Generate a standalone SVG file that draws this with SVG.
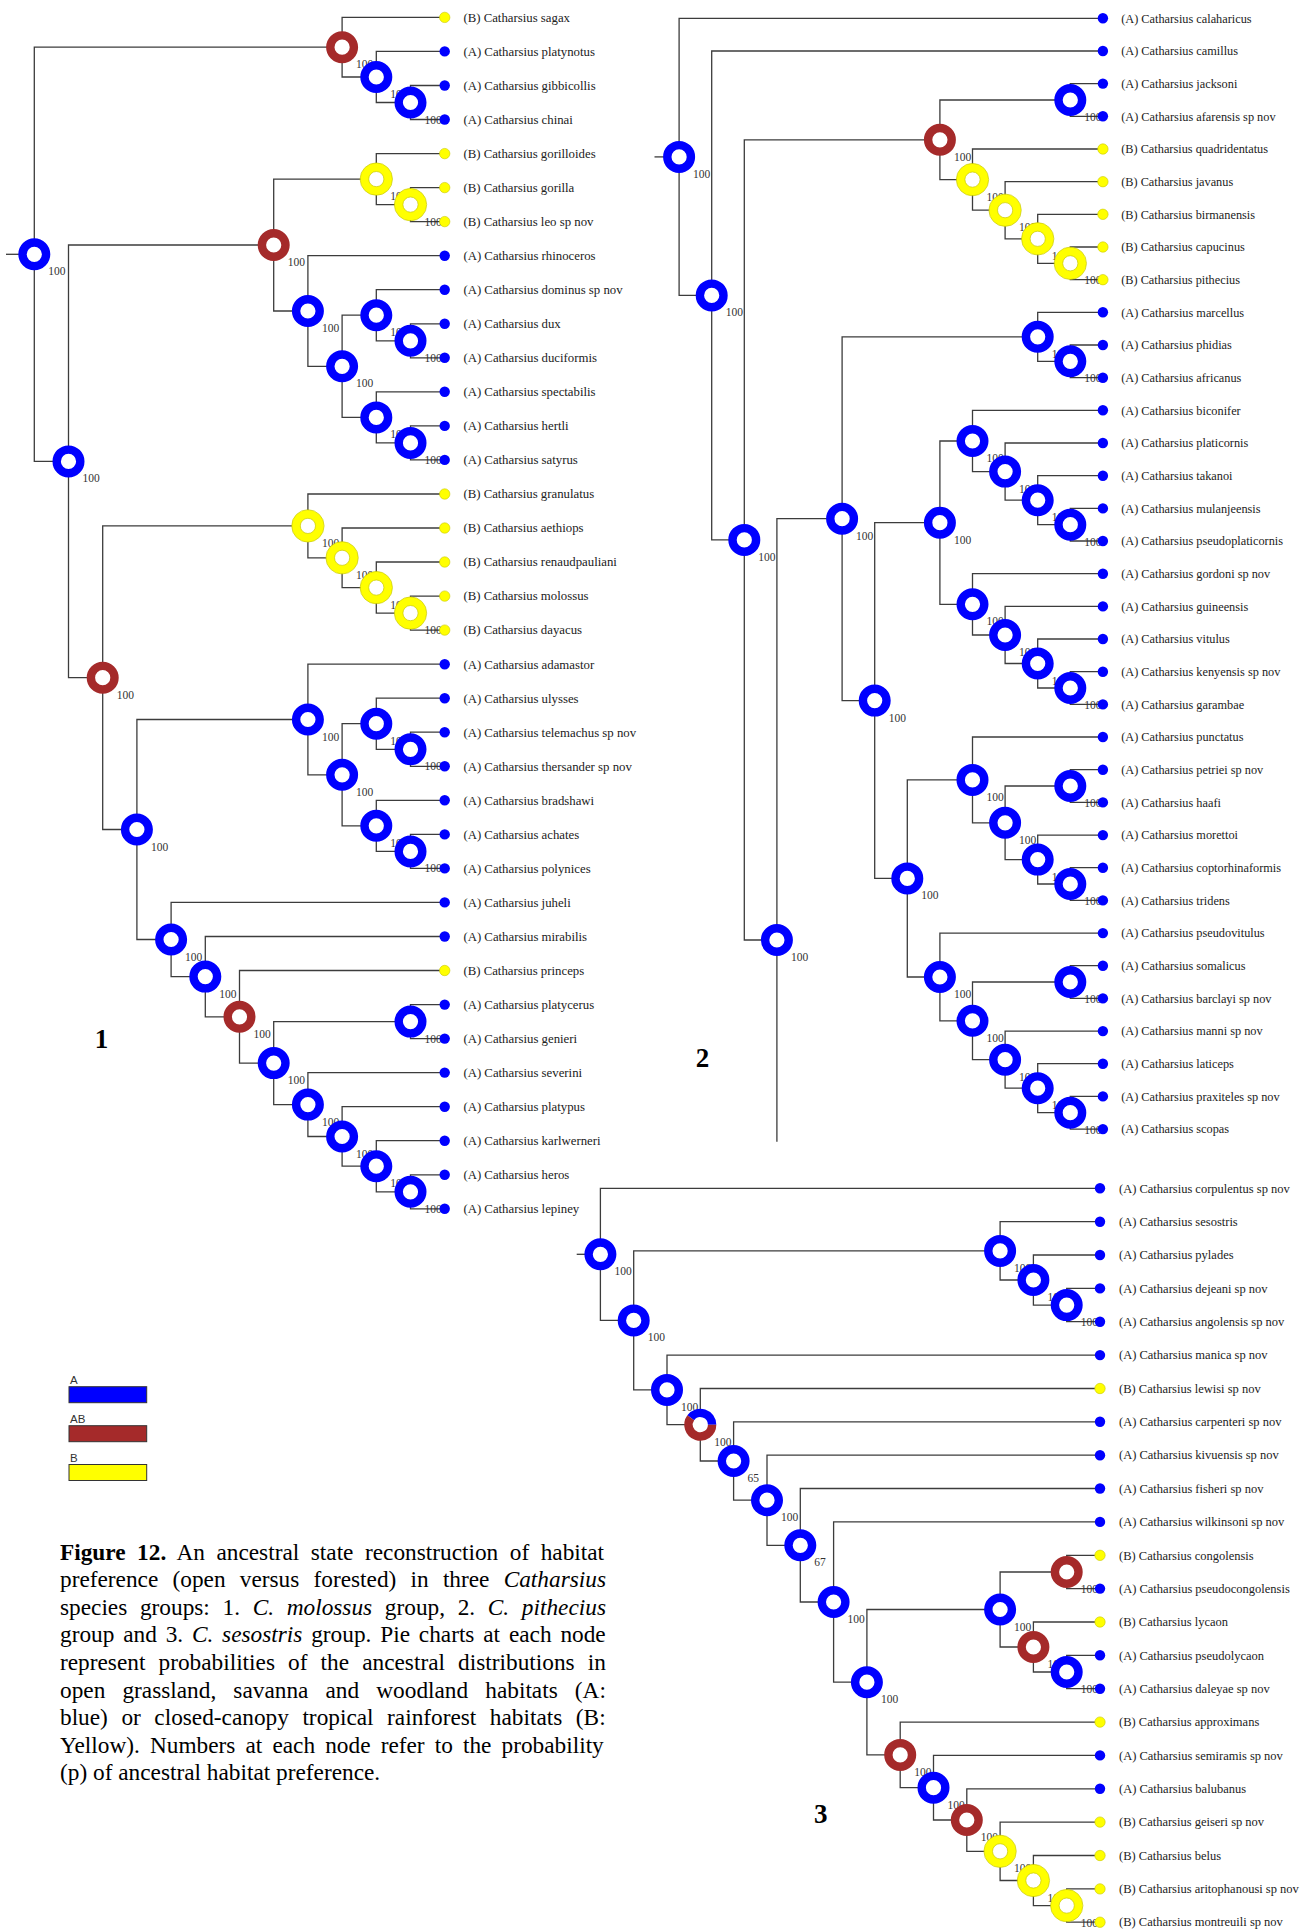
<svg xmlns="http://www.w3.org/2000/svg" width="1306" height="1930" viewBox="0 0 1306 1930">
<style>
.c{fill:none;stroke:#3c3c3c;stroke-width:1.3}
.ra{fill:#fff;stroke:#0000ff;stroke-width:8.4}
.rb{fill:#fff;stroke:#a52a2a;stroke-width:8.4}
.ry{fill:#fff;stroke:#ffff00;stroke-width:8.4}
.yo{fill:none;stroke:#c8c800;stroke-width:0.7}
.da{fill:#0000ff}
.db{fill:#ffff00;stroke:#c8c800;stroke-width:0.6}
.lf1{font-family:"Liberation Serif","Times New Roman",serif;font-size:12.8px;fill:#222}
.lf2{font-family:"Liberation Serif","Times New Roman",serif;font-size:12.3px;fill:#222}
.lf3{font-family:"Liberation Serif","Times New Roman",serif;font-size:12.5px;fill:#222}
.nl{font-family:"Liberation Serif","Times New Roman",serif;font-size:11.5px;fill:#333}
.tn{font-family:"Liberation Serif","Times New Roman",serif;font-size:27px;font-weight:bold;fill:#000;text-anchor:middle}
.cap{font-family:"Liberation Serif","Times New Roman",serif;font-size:23.3px;fill:#000}
.lg{font-family:"Liberation Sans",Arial,sans-serif;font-size:11.5px;fill:#333}
</style>
<rect width="1306" height="1930" fill="#fff"/>
<g id="connectors" class="c">
<path d="M6 254.3H34.3"/>
<path d="M342.1 47.2H34.3V461.4H68.5"/>
<path d="M444.7 17.4H342.1V77H376.3"/>
<path d="M444.7 51.4H376.3V102.5H410.5"/>
<path d="M444.7 85.5H410.5V119.5H444.7"/>
<path d="M273.7 245H68.5V677.7H102.7"/>
<path d="M376.3 179.1H273.7V311H307.9"/>
<path d="M444.7 153.6H376.3V204.6H410.5"/>
<path d="M444.7 187.6H410.5V221.6H444.7"/>
<path d="M444.7 255.7H307.9V366.3H342.1"/>
<path d="M376.3 315.2H342.1V417.4H376.3"/>
<path d="M444.7 289.7H376.3V340.8H410.5"/>
<path d="M444.7 323.8H410.5V357.8H444.7"/>
<path d="M444.7 391.8H376.3V442.9H410.5"/>
<path d="M444.7 425.9H410.5V459.9H444.7"/>
<path d="M307.9 525.9H102.7V829.5H136.9"/>
<path d="M444.7 494H307.9V557.8H342.1"/>
<path d="M444.7 528H342.1V587.6H376.3"/>
<path d="M444.7 562H376.3V613.1H410.5"/>
<path d="M444.7 596.1H410.5V630.1H444.7"/>
<path d="M307.9 719.5H136.9V939.5H171.1"/>
<path d="M444.7 664.2H307.9V774.8H342.1"/>
<path d="M376.3 723.7H342.1V825.8H376.3"/>
<path d="M444.7 698.2H376.3V749.3H410.5"/>
<path d="M444.7 732.2H410.5V766.3H444.7"/>
<path d="M444.7 800.3H376.3V851.4H410.5"/>
<path d="M444.7 834.4H410.5V868.4H444.7"/>
<path d="M444.7 902.4H171.1V976.6H205.3"/>
<path d="M444.7 936.5H205.3V1016.8H239.5"/>
<path d="M444.7 970.5H239.5V1063.1H273.7"/>
<path d="M410.5 1021.6H273.7V1104.6H307.9"/>
<path d="M444.7 1004.6H410.5V1038.6H444.7"/>
<path d="M444.7 1072.6H307.9V1136.5H342.1"/>
<path d="M444.7 1106.7H342.1V1166.2H376.3"/>
<path d="M444.7 1140.7H376.3V1191.8H410.5"/>
<path d="M444.7 1174.8H410.5V1208.8H444.7"/>
<path d="M654.5 156.9H679.1"/>
<path d="M1102.9 18.3H679.1V295.4H711.7"/>
<path d="M1102.9 51H711.7V539.9H744.3"/>
<path d="M939.9 139.8H744.3V940H776.9"/>
<path d="M1070.3 100H939.9V179.6H972.5"/>
<path d="M1102.9 83.6H1070.3V116.3H1102.9"/>
<path d="M1102.9 149H972.5V210.2H1005.1"/>
<path d="M1102.9 181.7H1005.1V238.8H1037.7"/>
<path d="M1102.9 214.3H1037.7V263.3H1070.3"/>
<path d="M1102.9 247H1070.3V279.7H1102.9"/>
<path d="M842.1 518.7H776.9V1141.7"/>
<path d="M1037.7 336.8H842.1V700.6H874.7"/>
<path d="M1102.9 312.3H1037.7V361.3H1070.3"/>
<path d="M1102.9 345H1070.3V377.7H1102.9"/>
<path d="M939.9 522.7H874.7V878.4H907.3"/>
<path d="M972.5 441H939.9V604.3H972.5"/>
<path d="M1102.9 410.3H972.5V471.6H1005.1"/>
<path d="M1102.9 443H1005.1V500.2H1037.7"/>
<path d="M1102.9 475.7H1037.7V524.7H1070.3"/>
<path d="M1102.9 508.4H1070.3V541H1102.9"/>
<path d="M1102.9 573.7H972.5V635H1005.1"/>
<path d="M1102.9 606.4H1005.1V663.5H1037.7"/>
<path d="M1102.9 639H1037.7V688H1070.3"/>
<path d="M1102.9 671.7H1070.3V704.4H1102.9"/>
<path d="M972.5 779.9H907.3V977H939.9"/>
<path d="M1102.9 737H972.5V822.8H1005.1"/>
<path d="M1070.3 786H1005.1V859.6H1037.7"/>
<path d="M1102.9 769.7H1070.3V802.4H1102.9"/>
<path d="M1102.9 835.1H1037.7V884H1070.3"/>
<path d="M1102.9 867.7H1070.3V900.4H1102.9"/>
<path d="M1102.9 933.1H939.9V1020.8H972.5"/>
<path d="M1070.3 982H972.5V1059.7H1005.1"/>
<path d="M1102.9 965.7H1070.3V998.4H1102.9"/>
<path d="M1102.9 1031.1H1005.1V1088.2H1037.7"/>
<path d="M1102.9 1063.7H1037.7V1112.7H1070.3"/>
<path d="M1102.9 1096.4H1070.3V1129.1H1102.9"/>
<path d="M576.7 1254.3H600.4"/>
<path d="M1100 1188.3H600.4V1320.4H633.7"/>
<path d="M1000.1 1250.9H633.7V1389.9H667"/>
<path d="M1100 1221.7H1000.1V1280H1033.4"/>
<path d="M1100 1255H1033.4V1305.1H1066.7"/>
<path d="M1100 1288.4H1066.7V1321.7H1100"/>
<path d="M1100 1355.1H667V1424.7H700.3"/>
<path d="M1100 1388.5H700.3V1461H733.6"/>
<path d="M1100 1421.8H733.6V1500.2H767"/>
<path d="M1100 1455.2H767V1545.3H800.3"/>
<path d="M1100 1488.5H800.3V1602H833.6"/>
<path d="M1100 1521.9H833.6V1682.2H866.9"/>
<path d="M1000.1 1609.5H866.9V1754.9H900.2"/>
<path d="M1066.7 1572H1000.1V1647H1033.4"/>
<path d="M1100 1555.3H1066.7V1588.6H1100"/>
<path d="M1100 1622H1033.4V1672H1066.7"/>
<path d="M1100 1655.3H1066.7V1688.7H1100"/>
<path d="M1100 1722.1H900.2V1787.7H933.5"/>
<path d="M1100 1755.4H933.5V1820H966.8"/>
<path d="M1100 1788.8H966.8V1851.3H1000.1"/>
<path d="M1100 1822.1H1000.1V1880.5H1033.4"/>
<path d="M1100 1855.5H1033.4V1905.6H1066.7"/>
<path d="M1100 1888.9H1066.7V1922.2H1100"/>
</g>
<g id="tree1-nodes">
<g id="t1-root"><text class="nl" x="48.3" y="275.3">100</text><circle class="ra" cx="34.3" cy="254.3" r="11.8"/></g>
<g id="t1-R1"><text class="nl" x="356.1" y="68.2">100</text><circle class="rb" cx="342.1" cy="47.2" r="11.8"/></g>
<g id="t1-B1"><text class="nl" x="390.3" y="98">100</text><circle class="ra" cx="376.3" cy="77" r="11.8"/></g>
<g id="t1-B2"><text class="nl" x="424.5" y="123.5">100</text><circle class="ra" cx="410.5" cy="102.5" r="11.8"/></g>
<g id="t1-N2"><text class="nl" x="82.5" y="482.4">100</text><circle class="ra" cx="68.5" cy="461.4" r="11.8"/></g>
<g id="t1-R2"><text class="nl" x="287.7" y="266">100</text><circle class="rb" cx="273.7" cy="245" r="11.8"/></g>
<g id="t1-Y1"><text class="nl" x="390.3" y="200.1">100</text><circle class="ry" cx="376.3" cy="179.1" r="11.8"/><circle class="yo" cx="376.3" cy="179.1" r="16.2"/><circle class="yo" cx="376.3" cy="179.1" r="7.6"/></g>
<g id="t1-Y2"><text class="nl" x="424.5" y="225.6">100</text><circle class="ry" cx="410.5" cy="204.6" r="11.8"/><circle class="yo" cx="410.5" cy="204.6" r="16.2"/><circle class="yo" cx="410.5" cy="204.6" r="7.6"/></g>
<g id="t1-B3"><text class="nl" x="321.9" y="332">100</text><circle class="ra" cx="307.9" cy="311" r="11.8"/></g>
<g id="t1-B4"><text class="nl" x="356.1" y="387.3">100</text><circle class="ra" cx="342.1" cy="366.3" r="11.8"/></g>
<g id="t1-B5"><text class="nl" x="390.3" y="336.2">100</text><circle class="ra" cx="376.3" cy="315.2" r="11.8"/></g>
<g id="t1-B7"><text class="nl" x="424.5" y="361.8">100</text><circle class="ra" cx="410.5" cy="340.8" r="11.8"/></g>
<g id="t1-B6"><text class="nl" x="390.3" y="438.4">100</text><circle class="ra" cx="376.3" cy="417.4" r="11.8"/></g>
<g id="t1-B8"><text class="nl" x="424.5" y="463.9">100</text><circle class="ra" cx="410.5" cy="442.9" r="11.8"/></g>
<g id="t1-R3"><text class="nl" x="116.7" y="698.7">100</text><circle class="rb" cx="102.7" cy="677.7" r="11.8"/></g>
<g id="t1-Y3"><text class="nl" x="321.9" y="546.9">100</text><circle class="ry" cx="307.9" cy="525.9" r="11.8"/><circle class="yo" cx="307.9" cy="525.9" r="16.2"/><circle class="yo" cx="307.9" cy="525.9" r="7.6"/></g>
<g id="t1-Y4"><text class="nl" x="356.1" y="578.8">100</text><circle class="ry" cx="342.1" cy="557.8" r="11.8"/><circle class="yo" cx="342.1" cy="557.8" r="16.2"/><circle class="yo" cx="342.1" cy="557.8" r="7.6"/></g>
<g id="t1-Y5"><text class="nl" x="390.3" y="608.6">100</text><circle class="ry" cx="376.3" cy="587.6" r="11.8"/><circle class="yo" cx="376.3" cy="587.6" r="16.2"/><circle class="yo" cx="376.3" cy="587.6" r="7.6"/></g>
<g id="t1-Y6"><text class="nl" x="424.5" y="634.1">100</text><circle class="ry" cx="410.5" cy="613.1" r="11.8"/><circle class="yo" cx="410.5" cy="613.1" r="16.2"/><circle class="yo" cx="410.5" cy="613.1" r="7.6"/></g>
<g id="t1-B9"><text class="nl" x="150.9" y="850.5">100</text><circle class="ra" cx="136.9" cy="829.5" r="11.8"/></g>
<g id="t1-B10"><text class="nl" x="321.9" y="740.5">100</text><circle class="ra" cx="307.9" cy="719.5" r="11.8"/></g>
<g id="t1-B12"><text class="nl" x="356.1" y="795.8">100</text><circle class="ra" cx="342.1" cy="774.8" r="11.8"/></g>
<g id="t1-B13"><text class="nl" x="390.3" y="744.7">100</text><circle class="ra" cx="376.3" cy="723.7" r="11.8"/></g>
<g id="t1-B15"><text class="nl" x="424.5" y="770.3">100</text><circle class="ra" cx="410.5" cy="749.3" r="11.8"/></g>
<g id="t1-B14"><text class="nl" x="390.3" y="846.8">100</text><circle class="ra" cx="376.3" cy="825.8" r="11.8"/></g>
<g id="t1-B16"><text class="nl" x="424.5" y="872.4">100</text><circle class="ra" cx="410.5" cy="851.4" r="11.8"/></g>
<g id="t1-B11"><text class="nl" x="185.1" y="960.5">100</text><circle class="ra" cx="171.1" cy="939.5" r="11.8"/></g>
<g id="t1-B17"><text class="nl" x="219.3" y="997.6">100</text><circle class="ra" cx="205.3" cy="976.6" r="11.8"/></g>
<g id="t1-R4"><text class="nl" x="253.5" y="1037.8">100</text><circle class="rb" cx="239.5" cy="1016.8" r="11.8"/></g>
<g id="t1-B18"><text class="nl" x="287.7" y="1084.1">100</text><circle class="ra" cx="273.7" cy="1063.1" r="11.8"/></g>
<g id="t1-B19"><text class="nl" x="424.5" y="1042.6">100</text><circle class="ra" cx="410.5" cy="1021.6" r="11.8"/></g>
<g id="t1-B20"><text class="nl" x="321.9" y="1125.6">100</text><circle class="ra" cx="307.9" cy="1104.6" r="11.8"/></g>
<g id="t1-B21"><text class="nl" x="356.1" y="1157.5">100</text><circle class="ra" cx="342.1" cy="1136.5" r="11.8"/></g>
<g id="t1-B22"><text class="nl" x="390.3" y="1187.2">100</text><circle class="ra" cx="376.3" cy="1166.2" r="11.8"/></g>
<g id="t1-B23"><text class="nl" x="424.5" y="1212.8">100</text><circle class="ra" cx="410.5" cy="1191.8" r="11.8"/></g>
</g>
<g id="tree1-leaves">
<g id="t1-l00"><circle class="db" cx="444.7" cy="17.4" r="5.2"/><text class="lf1" x="463.4" y="21.7">(B) Catharsius sagax</text></g>
<g id="t1-l01"><circle class="da" cx="444.7" cy="51.4" r="5.2"/><text class="lf1" x="463.4" y="55.7">(A) Catharsius platynotus</text></g>
<g id="t1-l02"><circle class="da" cx="444.7" cy="85.5" r="5.2"/><text class="lf1" x="463.4" y="89.8">(A) Catharsius gibbicollis</text></g>
<g id="t1-l03"><circle class="da" cx="444.7" cy="119.5" r="5.2"/><text class="lf1" x="463.4" y="123.8">(A) Catharsius chinai</text></g>
<g id="t1-l04"><circle class="db" cx="444.7" cy="153.6" r="5.2"/><text class="lf1" x="463.4" y="157.9">(B) Catharsius gorilloides</text></g>
<g id="t1-l05"><circle class="db" cx="444.7" cy="187.6" r="5.2"/><text class="lf1" x="463.4" y="191.9">(B) Catharsius gorilla</text></g>
<g id="t1-l06"><circle class="db" cx="444.7" cy="221.6" r="5.2"/><text class="lf1" x="463.4" y="225.9">(B) Catharsius leo sp nov</text></g>
<g id="t1-l07"><circle class="da" cx="444.7" cy="255.7" r="5.2"/><text class="lf1" x="463.4" y="260">(A) Catharsius rhinoceros</text></g>
<g id="t1-l08"><circle class="da" cx="444.7" cy="289.7" r="5.2"/><text class="lf1" x="463.4" y="294">(A) Catharsius dominus sp nov</text></g>
<g id="t1-l09"><circle class="da" cx="444.7" cy="323.8" r="5.2"/><text class="lf1" x="463.4" y="328.1">(A) Catharsius dux</text></g>
<g id="t1-l10"><circle class="da" cx="444.7" cy="357.8" r="5.2"/><text class="lf1" x="463.4" y="362.1">(A) Catharsius duciformis</text></g>
<g id="t1-l11"><circle class="da" cx="444.7" cy="391.8" r="5.2"/><text class="lf1" x="463.4" y="396.1">(A) Catharsius spectabilis</text></g>
<g id="t1-l12"><circle class="da" cx="444.7" cy="425.9" r="5.2"/><text class="lf1" x="463.4" y="430.2">(A) Catharsius hertli</text></g>
<g id="t1-l13"><circle class="da" cx="444.7" cy="459.9" r="5.2"/><text class="lf1" x="463.4" y="464.2">(A) Catharsius satyrus</text></g>
<g id="t1-l14"><circle class="db" cx="444.7" cy="494" r="5.2"/><text class="lf1" x="463.4" y="498.3">(B) Catharsius granulatus</text></g>
<g id="t1-l15"><circle class="db" cx="444.7" cy="528" r="5.2"/><text class="lf1" x="463.4" y="532.3">(B) Catharsius aethiops</text></g>
<g id="t1-l16"><circle class="db" cx="444.7" cy="562" r="5.2"/><text class="lf1" x="463.4" y="566.3">(B) Catharsius renaudpauliani</text></g>
<g id="t1-l17"><circle class="db" cx="444.7" cy="596.1" r="5.2"/><text class="lf1" x="463.4" y="600.4">(B) Catharsius molossus</text></g>
<g id="t1-l18"><circle class="db" cx="444.7" cy="630.1" r="5.2"/><text class="lf1" x="463.4" y="634.4">(B) Catharsius dayacus</text></g>
<g id="t1-l19"><circle class="da" cx="444.7" cy="664.2" r="5.2"/><text class="lf1" x="463.4" y="668.5">(A) Catharsius adamastor</text></g>
<g id="t1-l20"><circle class="da" cx="444.7" cy="698.2" r="5.2"/><text class="lf1" x="463.4" y="702.5">(A) Catharsius ulysses</text></g>
<g id="t1-l21"><circle class="da" cx="444.7" cy="732.2" r="5.2"/><text class="lf1" x="463.4" y="736.5">(A) Catharsius telemachus sp nov</text></g>
<g id="t1-l22"><circle class="da" cx="444.7" cy="766.3" r="5.2"/><text class="lf1" x="463.4" y="770.6">(A) Catharsius thersander sp nov</text></g>
<g id="t1-l23"><circle class="da" cx="444.7" cy="800.3" r="5.2"/><text class="lf1" x="463.4" y="804.6">(A) Catharsius bradshawi</text></g>
<g id="t1-l24"><circle class="da" cx="444.7" cy="834.4" r="5.2"/><text class="lf1" x="463.4" y="838.7">(A) Catharsius achates</text></g>
<g id="t1-l25"><circle class="da" cx="444.7" cy="868.4" r="5.2"/><text class="lf1" x="463.4" y="872.7">(A) Catharsius polynices</text></g>
<g id="t1-l26"><circle class="da" cx="444.7" cy="902.4" r="5.2"/><text class="lf1" x="463.4" y="906.7">(A) Catharsius juheli</text></g>
<g id="t1-l27"><circle class="da" cx="444.7" cy="936.5" r="5.2"/><text class="lf1" x="463.4" y="940.8">(A) Catharsius mirabilis</text></g>
<g id="t1-l28"><circle class="db" cx="444.7" cy="970.5" r="5.2"/><text class="lf1" x="463.4" y="974.8">(B) Catharsius princeps</text></g>
<g id="t1-l29"><circle class="da" cx="444.7" cy="1004.6" r="5.2"/><text class="lf1" x="463.4" y="1008.9">(A) Catharsius platycerus</text></g>
<g id="t1-l30"><circle class="da" cx="444.7" cy="1038.6" r="5.2"/><text class="lf1" x="463.4" y="1042.9">(A) Catharsius genieri</text></g>
<g id="t1-l31"><circle class="da" cx="444.7" cy="1072.6" r="5.2"/><text class="lf1" x="463.4" y="1076.9">(A) Catharsius severini</text></g>
<g id="t1-l32"><circle class="da" cx="444.7" cy="1106.7" r="5.2"/><text class="lf1" x="463.4" y="1111">(A) Catharsius platypus</text></g>
<g id="t1-l33"><circle class="da" cx="444.7" cy="1140.7" r="5.2"/><text class="lf1" x="463.4" y="1145">(A) Catharsius karlwerneri</text></g>
<g id="t1-l34"><circle class="da" cx="444.7" cy="1174.8" r="5.2"/><text class="lf1" x="463.4" y="1179.1">(A) Catharsius heros</text></g>
<g id="t1-l35"><circle class="da" cx="444.7" cy="1208.8" r="5.2"/><text class="lf1" x="463.4" y="1213.1">(A) Catharsius lepiney</text></g>
</g>
<g id="tree2-nodes">
<g id="t2-root"><text class="nl" x="693.1" y="177.9">100</text><circle class="ra" cx="679.1" cy="156.9" r="11.8"/></g>
<g id="t2-M1"><text class="nl" x="725.7" y="316.4">100</text><circle class="ra" cx="711.7" cy="295.4" r="11.8"/></g>
<g id="t2-M2"><text class="nl" x="758.3" y="560.9">100</text><circle class="ra" cx="744.3" cy="539.9" r="11.8"/></g>
<g id="t2-R5"><text class="nl" x="953.9" y="160.8">100</text><circle class="rb" cx="939.9" cy="139.8" r="11.8"/></g>
<g id="t2-Bj"><text class="nl" x="1084.3" y="121">100</text><circle class="ra" cx="1070.3" cy="100" r="11.8"/></g>
<g id="t2-Y7"><text class="nl" x="986.5" y="200.6">100</text><circle class="ry" cx="972.5" cy="179.6" r="11.8"/><circle class="yo" cx="972.5" cy="179.6" r="16.2"/><circle class="yo" cx="972.5" cy="179.6" r="7.6"/></g>
<g id="t2-Y8"><text class="nl" x="1019.1" y="231.2">100</text><circle class="ry" cx="1005.1" cy="210.2" r="11.8"/><circle class="yo" cx="1005.1" cy="210.2" r="16.2"/><circle class="yo" cx="1005.1" cy="210.2" r="7.6"/></g>
<g id="t2-Y9"><text class="nl" x="1051.7" y="259.8">100</text><circle class="ry" cx="1037.7" cy="238.8" r="11.8"/><circle class="yo" cx="1037.7" cy="238.8" r="16.2"/><circle class="yo" cx="1037.7" cy="238.8" r="7.6"/></g>
<g id="t2-Y10"><text class="nl" x="1084.3" y="284.3">100</text><circle class="ry" cx="1070.3" cy="263.3" r="11.8"/><circle class="yo" cx="1070.3" cy="263.3" r="16.2"/><circle class="yo" cx="1070.3" cy="263.3" r="7.6"/></g>
<g id="t2-M3"><text class="nl" x="790.9" y="961">100</text><circle class="ra" cx="776.9" cy="940" r="11.8"/></g>
<g id="t2-M4"><text class="nl" x="856.1" y="539.7">100</text><circle class="ra" cx="842.1" cy="518.7" r="11.8"/></g>
<g id="t2-Bm"><text class="nl" x="1051.7" y="357.8">100</text><circle class="ra" cx="1037.7" cy="336.8" r="11.8"/></g>
<g id="t2-Bp"><text class="nl" x="1084.3" y="382.3">100</text><circle class="ra" cx="1070.3" cy="361.3" r="11.8"/></g>
<g id="t2-M5"><text class="nl" x="888.7" y="721.6">100</text><circle class="ra" cx="874.7" cy="700.6" r="11.8"/></g>
<g id="t2-M6"><text class="nl" x="953.9" y="543.7">100</text><circle class="ra" cx="939.9" cy="522.7" r="11.8"/></g>
<g id="t2-M7"><text class="nl" x="986.5" y="462">100</text><circle class="ra" cx="972.5" cy="441" r="11.8"/></g>
<g id="t2-M7a"><text class="nl" x="1019.1" y="492.6">100</text><circle class="ra" cx="1005.1" cy="471.6" r="11.8"/></g>
<g id="t2-M7b"><text class="nl" x="1051.7" y="521.2">100</text><circle class="ra" cx="1037.7" cy="500.2" r="11.8"/></g>
<g id="t2-M7c"><text class="nl" x="1084.3" y="545.7">100</text><circle class="ra" cx="1070.3" cy="524.7" r="11.8"/></g>
<g id="t2-M8"><text class="nl" x="986.5" y="625.3">100</text><circle class="ra" cx="972.5" cy="604.3" r="11.8"/></g>
<g id="t2-M8a"><text class="nl" x="1019.1" y="656">100</text><circle class="ra" cx="1005.1" cy="635" r="11.8"/></g>
<g id="t2-M8b"><text class="nl" x="1051.7" y="684.5">100</text><circle class="ra" cx="1037.7" cy="663.5" r="11.8"/></g>
<g id="t2-M8c"><text class="nl" x="1084.3" y="709">100</text><circle class="ra" cx="1070.3" cy="688" r="11.8"/></g>
<g id="t2-M9"><text class="nl" x="921.3" y="899.4">100</text><circle class="ra" cx="907.3" cy="878.4" r="11.8"/></g>
<g id="t2-M10"><text class="nl" x="986.5" y="800.9">100</text><circle class="ra" cx="972.5" cy="779.9" r="11.8"/></g>
<g id="t2-M10a"><text class="nl" x="1019.1" y="843.8">100</text><circle class="ra" cx="1005.1" cy="822.8" r="11.8"/></g>
<g id="t2-Mph"><text class="nl" x="1084.3" y="807">100</text><circle class="ra" cx="1070.3" cy="786" r="11.8"/></g>
<g id="t2-Mmo"><text class="nl" x="1051.7" y="880.6">100</text><circle class="ra" cx="1037.7" cy="859.6" r="11.8"/></g>
<g id="t2-Mct"><text class="nl" x="1084.3" y="905">100</text><circle class="ra" cx="1070.3" cy="884" r="11.8"/></g>
<g id="t2-M11"><text class="nl" x="953.9" y="998">100</text><circle class="ra" cx="939.9" cy="977" r="11.8"/></g>
<g id="t2-M11a"><text class="nl" x="986.5" y="1041.8">100</text><circle class="ra" cx="972.5" cy="1020.8" r="11.8"/></g>
<g id="t2-Msb"><text class="nl" x="1084.3" y="1003">100</text><circle class="ra" cx="1070.3" cy="982" r="11.8"/></g>
<g id="t2-Mma"><text class="nl" x="1019.1" y="1080.7">100</text><circle class="ra" cx="1005.1" cy="1059.7" r="11.8"/></g>
<g id="t2-Mla"><text class="nl" x="1051.7" y="1109.2">100</text><circle class="ra" cx="1037.7" cy="1088.2" r="11.8"/></g>
<g id="t2-Mps"><text class="nl" x="1084.3" y="1133.7">100</text><circle class="ra" cx="1070.3" cy="1112.7" r="11.8"/></g>
</g>
<g id="tree2-leaves">
<g id="t2-l00"><circle class="da" cx="1102.9" cy="18.3" r="5.2"/><text class="lf2" x="1121.2" y="22.5">(A) Catharsius calaharicus</text></g>
<g id="t2-l01"><circle class="da" cx="1102.9" cy="51" r="5.2"/><text class="lf2" x="1121.2" y="55.2">(A) Catharsius camillus</text></g>
<g id="t2-l02"><circle class="da" cx="1102.9" cy="83.6" r="5.2"/><text class="lf2" x="1121.2" y="87.8">(A) Catharsius jacksoni</text></g>
<g id="t2-l03"><circle class="da" cx="1102.9" cy="116.3" r="5.2"/><text class="lf2" x="1121.2" y="120.5">(A) Catharsius afarensis sp nov</text></g>
<g id="t2-l04"><circle class="db" cx="1102.9" cy="149" r="5.2"/><text class="lf2" x="1121.2" y="153.2">(B) Catharsius quadridentatus</text></g>
<g id="t2-l05"><circle class="db" cx="1102.9" cy="181.7" r="5.2"/><text class="lf2" x="1121.2" y="185.9">(B) Catharsius javanus</text></g>
<g id="t2-l06"><circle class="db" cx="1102.9" cy="214.3" r="5.2"/><text class="lf2" x="1121.2" y="218.5">(B) Catharsius birmanensis</text></g>
<g id="t2-l07"><circle class="db" cx="1102.9" cy="247" r="5.2"/><text class="lf2" x="1121.2" y="251.2">(B) Catharsius capucinus</text></g>
<g id="t2-l08"><circle class="db" cx="1102.9" cy="279.7" r="5.2"/><text class="lf2" x="1121.2" y="283.9">(B) Catharsius pithecius</text></g>
<g id="t2-l09"><circle class="da" cx="1102.9" cy="312.3" r="5.2"/><text class="lf2" x="1121.2" y="316.5">(A) Catharsius marcellus</text></g>
<g id="t2-l10"><circle class="da" cx="1102.9" cy="345" r="5.2"/><text class="lf2" x="1121.2" y="349.2">(A) Catharsius phidias</text></g>
<g id="t2-l11"><circle class="da" cx="1102.9" cy="377.7" r="5.2"/><text class="lf2" x="1121.2" y="381.9">(A) Catharsius africanus</text></g>
<g id="t2-l12"><circle class="da" cx="1102.9" cy="410.3" r="5.2"/><text class="lf2" x="1121.2" y="414.5">(A) Catharsius biconifer</text></g>
<g id="t2-l13"><circle class="da" cx="1102.9" cy="443" r="5.2"/><text class="lf2" x="1121.2" y="447.2">(A) Catharsius platicornis</text></g>
<g id="t2-l14"><circle class="da" cx="1102.9" cy="475.7" r="5.2"/><text class="lf2" x="1121.2" y="479.9">(A) Catharsius takanoi</text></g>
<g id="t2-l15"><circle class="da" cx="1102.9" cy="508.4" r="5.2"/><text class="lf2" x="1121.2" y="512.6">(A) Catharsius mulanjeensis</text></g>
<g id="t2-l16"><circle class="da" cx="1102.9" cy="541" r="5.2"/><text class="lf2" x="1121.2" y="545.2">(A) Catharsius pseudoplaticornis</text></g>
<g id="t2-l17"><circle class="da" cx="1102.9" cy="573.7" r="5.2"/><text class="lf2" x="1121.2" y="577.9">(A) Catharsius gordoni sp nov</text></g>
<g id="t2-l18"><circle class="da" cx="1102.9" cy="606.4" r="5.2"/><text class="lf2" x="1121.2" y="610.6">(A) Catharsius guineensis</text></g>
<g id="t2-l19"><circle class="da" cx="1102.9" cy="639" r="5.2"/><text class="lf2" x="1121.2" y="643.2">(A) Catharsius vitulus</text></g>
<g id="t2-l20"><circle class="da" cx="1102.9" cy="671.7" r="5.2"/><text class="lf2" x="1121.2" y="675.9">(A) Catharsius kenyensis sp nov</text></g>
<g id="t2-l21"><circle class="da" cx="1102.9" cy="704.4" r="5.2"/><text class="lf2" x="1121.2" y="708.6">(A) Catharsius garambae</text></g>
<g id="t2-l22"><circle class="da" cx="1102.9" cy="737" r="5.2"/><text class="lf2" x="1121.2" y="741.2">(A) Catharsius punctatus</text></g>
<g id="t2-l23"><circle class="da" cx="1102.9" cy="769.7" r="5.2"/><text class="lf2" x="1121.2" y="773.9">(A) Catharsius petriei sp nov</text></g>
<g id="t2-l24"><circle class="da" cx="1102.9" cy="802.4" r="5.2"/><text class="lf2" x="1121.2" y="806.6">(A) Catharsius haafi</text></g>
<g id="t2-l25"><circle class="da" cx="1102.9" cy="835.1" r="5.2"/><text class="lf2" x="1121.2" y="839.3">(A) Catharsius morettoi</text></g>
<g id="t2-l26"><circle class="da" cx="1102.9" cy="867.7" r="5.2"/><text class="lf2" x="1121.2" y="871.9">(A) Catharsius coptorhinaformis</text></g>
<g id="t2-l27"><circle class="da" cx="1102.9" cy="900.4" r="5.2"/><text class="lf2" x="1121.2" y="904.6">(A) Catharsius tridens</text></g>
<g id="t2-l28"><circle class="da" cx="1102.9" cy="933.1" r="5.2"/><text class="lf2" x="1121.2" y="937.3">(A) Catharsius pseudovitulus</text></g>
<g id="t2-l29"><circle class="da" cx="1102.9" cy="965.7" r="5.2"/><text class="lf2" x="1121.2" y="969.9">(A) Catharsius somalicus</text></g>
<g id="t2-l30"><circle class="da" cx="1102.9" cy="998.4" r="5.2"/><text class="lf2" x="1121.2" y="1002.6">(A) Catharsius barclayi sp nov</text></g>
<g id="t2-l31"><circle class="da" cx="1102.9" cy="1031.1" r="5.2"/><text class="lf2" x="1121.2" y="1035.3">(A) Catharsius manni sp nov</text></g>
<g id="t2-l32"><circle class="da" cx="1102.9" cy="1063.7" r="5.2"/><text class="lf2" x="1121.2" y="1067.9">(A) Catharsius laticeps</text></g>
<g id="t2-l33"><circle class="da" cx="1102.9" cy="1096.4" r="5.2"/><text class="lf2" x="1121.2" y="1100.6">(A) Catharsius praxiteles sp nov</text></g>
<g id="t2-l34"><circle class="da" cx="1102.9" cy="1129.1" r="5.2"/><text class="lf2" x="1121.2" y="1133.3">(A) Catharsius scopas</text></g>
</g>
<g id="tree3-nodes">
<g id="t3-root"><text class="nl" x="614.4" y="1275.3">100</text><circle class="ra" cx="600.4" cy="1254.3" r="11.8"/></g>
<g id="t3-P1"><text class="nl" x="647.7" y="1341.4">100</text><circle class="ra" cx="633.7" cy="1320.4" r="11.8"/></g>
<g id="t3-S1"><text class="nl" x="1014.1" y="1271.9">100</text><circle class="ra" cx="1000.1" cy="1250.9" r="11.8"/></g>
<g id="t3-S2"><text class="nl" x="1047.4" y="1301">100</text><circle class="ra" cx="1033.4" cy="1280" r="11.8"/></g>
<g id="t3-S3"><text class="nl" x="1080.7" y="1326.1">100</text><circle class="ra" cx="1066.7" cy="1305.1" r="11.8"/></g>
<g id="t3-P2"><text class="nl" x="681" y="1410.9">100</text><circle class="ra" cx="667" cy="1389.9" r="11.8"/></g>
<g id="t3-P3"><text class="nl" x="714.3" y="1445.7">100</text><circle cx="700.3" cy="1424.7" r="11.8" fill="#fff"/><path d="M690.75 1417.76A11.8 11.8 0 0 1 712.1 1424.7" fill="none" stroke="#0000ff" stroke-width="8.4"/><path d="M712.1 1424.7A11.8 11.8 0 1 1 690.75 1417.76" fill="none" stroke="#a52a2a" stroke-width="8.4"/></g>
<g id="t3-P4"><text class="nl" x="747.6" y="1482">65</text><circle class="ra" cx="733.6" cy="1461" r="11.8"/></g>
<g id="t3-P5"><text class="nl" x="781" y="1521.2">100</text><circle class="ra" cx="767" cy="1500.2" r="11.8"/></g>
<g id="t3-P6"><text class="nl" x="814.3" y="1566.3">67</text><circle class="ra" cx="800.3" cy="1545.3" r="11.8"/></g>
<g id="t3-P7"><text class="nl" x="847.6" y="1623">100</text><circle class="ra" cx="833.6" cy="1602" r="11.8"/></g>
<g id="t3-P8"><text class="nl" x="880.9" y="1703.2">100</text><circle class="ra" cx="866.9" cy="1682.2" r="11.8"/></g>
<g id="t3-Q1"><text class="nl" x="1014.1" y="1630.5">100</text><circle class="ra" cx="1000.1" cy="1609.5" r="11.8"/></g>
<g id="t3-Rc"><text class="nl" x="1080.7" y="1593">100</text><circle class="rb" cx="1066.7" cy="1572" r="11.8"/></g>
<g id="t3-Rl"><text class="nl" x="1047.4" y="1668">100</text><circle class="rb" cx="1033.4" cy="1647" r="11.8"/></g>
<g id="t3-Bl"><text class="nl" x="1080.7" y="1693">100</text><circle class="ra" cx="1066.7" cy="1672" r="11.8"/></g>
<g id="t3-Q5"><text class="nl" x="914.2" y="1775.9">100</text><circle class="rb" cx="900.2" cy="1754.9" r="11.8"/></g>
<g id="t3-Q6"><text class="nl" x="947.5" y="1808.7">100</text><circle class="ra" cx="933.5" cy="1787.7" r="11.8"/></g>
<g id="t3-Q7"><text class="nl" x="980.8" y="1841">100</text><circle class="rb" cx="966.8" cy="1820" r="11.8"/></g>
<g id="t3-Q8"><text class="nl" x="1014.1" y="1872.3">100</text><circle class="ry" cx="1000.1" cy="1851.3" r="11.8"/><circle class="yo" cx="1000.1" cy="1851.3" r="16.2"/><circle class="yo" cx="1000.1" cy="1851.3" r="7.6"/></g>
<g id="t3-Q9"><text class="nl" x="1047.4" y="1901.5">100</text><circle class="ry" cx="1033.4" cy="1880.5" r="11.8"/><circle class="yo" cx="1033.4" cy="1880.5" r="16.2"/><circle class="yo" cx="1033.4" cy="1880.5" r="7.6"/></g>
<g id="t3-Q10"><text class="nl" x="1080.7" y="1926.6">100</text><circle class="ry" cx="1066.7" cy="1905.6" r="11.8"/><circle class="yo" cx="1066.7" cy="1905.6" r="16.2"/><circle class="yo" cx="1066.7" cy="1905.6" r="7.6"/></g>
</g>
<g id="tree3-leaves">
<g id="t3-l00"><circle class="da" cx="1100" cy="1188.3" r="5.2"/><text class="lf3" x="1119" y="1192.5">(A) Catharsius corpulentus sp nov</text></g>
<g id="t3-l01"><circle class="da" cx="1100" cy="1221.7" r="5.2"/><text class="lf3" x="1119" y="1225.9">(A) Catharsius sesostris</text></g>
<g id="t3-l02"><circle class="da" cx="1100" cy="1255" r="5.2"/><text class="lf3" x="1119" y="1259.2">(A) Catharsius pylades</text></g>
<g id="t3-l03"><circle class="da" cx="1100" cy="1288.4" r="5.2"/><text class="lf3" x="1119" y="1292.6">(A) Catharsius dejeani sp nov</text></g>
<g id="t3-l04"><circle class="da" cx="1100" cy="1321.7" r="5.2"/><text class="lf3" x="1119" y="1325.9">(A) Catharsius angolensis sp nov</text></g>
<g id="t3-l05"><circle class="da" cx="1100" cy="1355.1" r="5.2"/><text class="lf3" x="1119" y="1359.3">(A) Catharsius manica sp nov</text></g>
<g id="t3-l06"><circle class="db" cx="1100" cy="1388.5" r="5.2"/><text class="lf3" x="1119" y="1392.7">(B) Catharsius lewisi sp nov</text></g>
<g id="t3-l07"><circle class="da" cx="1100" cy="1421.8" r="5.2"/><text class="lf3" x="1119" y="1426">(A) Catharsius carpenteri sp nov</text></g>
<g id="t3-l08"><circle class="da" cx="1100" cy="1455.2" r="5.2"/><text class="lf3" x="1119" y="1459.4">(A) Catharsius kivuensis sp nov</text></g>
<g id="t3-l09"><circle class="da" cx="1100" cy="1488.5" r="5.2"/><text class="lf3" x="1119" y="1492.7">(A) Catharsius fisheri sp nov</text></g>
<g id="t3-l10"><circle class="da" cx="1100" cy="1521.9" r="5.2"/><text class="lf3" x="1119" y="1526.1">(A) Catharsius wilkinsoni sp nov</text></g>
<g id="t3-l11"><circle class="db" cx="1100" cy="1555.3" r="5.2"/><text class="lf3" x="1119" y="1559.5">(B) Catharsius congolensis</text></g>
<g id="t3-l12"><circle class="da" cx="1100" cy="1588.6" r="5.2"/><text class="lf3" x="1119" y="1592.8">(A) Catharsius pseudocongolensis</text></g>
<g id="t3-l13"><circle class="db" cx="1100" cy="1622" r="5.2"/><text class="lf3" x="1119" y="1626.2">(B) Catharsius lycaon</text></g>
<g id="t3-l14"><circle class="da" cx="1100" cy="1655.3" r="5.2"/><text class="lf3" x="1119" y="1659.5">(A) Catharsius pseudolycaon</text></g>
<g id="t3-l15"><circle class="da" cx="1100" cy="1688.7" r="5.2"/><text class="lf3" x="1119" y="1692.9">(A) Catharsius daleyae sp nov</text></g>
<g id="t3-l16"><circle class="db" cx="1100" cy="1722.1" r="5.2"/><text class="lf3" x="1119" y="1726.3">(B) Catharsius approximans</text></g>
<g id="t3-l17"><circle class="da" cx="1100" cy="1755.4" r="5.2"/><text class="lf3" x="1119" y="1759.6">(A) Catharsius semiramis sp nov</text></g>
<g id="t3-l18"><circle class="da" cx="1100" cy="1788.8" r="5.2"/><text class="lf3" x="1119" y="1793">(A) Catharsius balubanus</text></g>
<g id="t3-l19"><circle class="db" cx="1100" cy="1822.1" r="5.2"/><text class="lf3" x="1119" y="1826.3">(B) Catharsius geiseri sp nov</text></g>
<g id="t3-l20"><circle class="db" cx="1100" cy="1855.5" r="5.2"/><text class="lf3" x="1119" y="1859.7">(B) Catharsius belus</text></g>
<g id="t3-l21"><circle class="db" cx="1100" cy="1888.9" r="5.2"/><text class="lf3" x="1119" y="1893.1">(B) Catharsius aritophanousi sp nov</text></g>
<g id="t3-l22"><circle class="db" cx="1100" cy="1922.2" r="5.2"/><text class="lf3" x="1119" y="1926.4">(B) Catharsius montreuili sp nov</text></g>
</g>
<g id="panel-numbers">
<text class="tn" x="101.6" y="1048.3">1</text>
<text class="tn" x="702.4" y="1067.3">2</text>
<text class="tn" x="820.7" y="1822.7">3</text>
</g>
<g id="legend">
<text class="lg" x="70" y="1384">A</text>
<rect x="69" y="1386.7" width="77.7" height="16" fill="#0000ff" stroke="#333" stroke-width="1"/>
<text class="lg" x="70" y="1422.7">AB</text>
<rect x="69" y="1425.7" width="77.7" height="16" fill="#a52a2a" stroke="#333" stroke-width="1"/>
<text class="lg" x="70" y="1461.7">B</text>
<rect x="69" y="1464.5" width="77.7" height="16" fill="#ffff00" stroke="#333" stroke-width="1"/>
</g>
<g id="caption" class="cap">
<text x="60" y="1559.6" word-spacing="5.7"><tspan font-weight="bold">Figure 12.</tspan> An ancestral state reconstruction of habitat</text>
<text x="60" y="1587.2" word-spacing="8.4">preference (open versus forested) in three <tspan font-style="italic">Catharsius</tspan></text>
<text x="60" y="1614.8" word-spacing="6.85">species groups: 1. <tspan font-style="italic">C. molossus</tspan> group, 2. <tspan font-style="italic">C. pithecius</tspan></text>
<text x="60" y="1642.4" word-spacing="3">group and 3. <tspan font-style="italic">C. sesostris</tspan> group. Pie charts at each node</text>
<text x="60" y="1670" word-spacing="7.3">represent probabilities of the ancestral distributions in</text>
<text x="60" y="1697.6" word-spacing="11.3">open grassland, savanna and woodland habitats (A:</text>
<text x="60" y="1725.2" word-spacing="7.7">blue) or closed-canopy tropical rainforest habitats (B:</text>
<text x="60" y="1752.8" word-spacing="4.3">Yellow). Numbers at each node refer to the probability</text>
<text x="60" y="1780.4">(p) of ancestral habitat preference.</text>
</g>
</svg>
